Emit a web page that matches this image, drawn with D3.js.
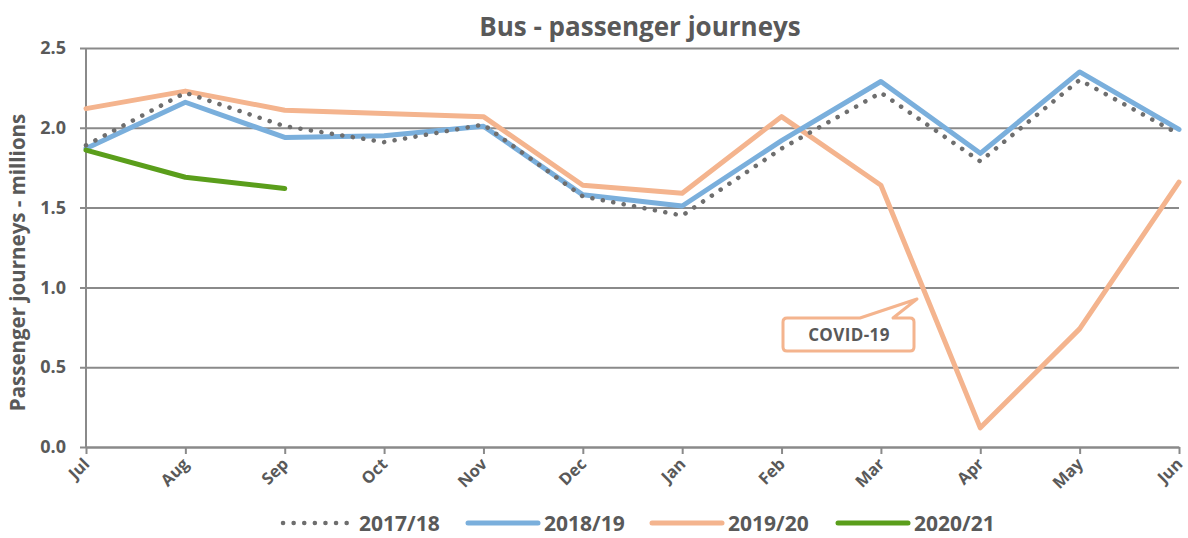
<!DOCTYPE html>
<html>
<head>
<meta charset="utf-8">
<script src="https://cdn.jsdelivr.net/npm/d3@7"></script>
<style>
  body { margin: 0; background: #fff; }
  text { font-family: "Open Sans", "Noto Sans", sans-serif; font-weight: 700; fill: #595959; }
</style>
</head>
<body>
<svg id="chart" width="1188" height="538"></svg>
<script>
// months of the financial year
const months = ["Jul", "Aug", "Sep", "Oct", "Nov", "Dec", "Jan", "Feb", "Mar", "Apr", "May", "Jun"];
const yTicks = [0, 0.5, 1.0, 1.5, 2.0, 2.5];

// passenger journeys, millions
const fy1718 = [1.89, 2.22, 2.01, 1.91, 2.02, 1.57, 1.45, 1.87, 2.22, 1.79, 2.30, 1.96];
const fy1819 = [1.87, 2.16, 1.94, 1.95, 2.01, 1.58, 1.51, 1.92, 2.29, 1.84, 2.35, 1.99];
const fy1920 = [2.12, 2.23, 2.11, 2.09, 2.07, 1.64, 1.59, 2.07, 1.64, 0.12, 0.74, 1.66];
const fy2021 = [1.86, 1.69, 1.62];

const seriesNames = ["2017/18", "2018/19", "2019/20", "2020/21"];

const series = [
    { name: seriesNames[0], values: fy1718, color: "#6e6e6e", dotted: true },
    { name: seriesNames[1], values: fy1819, color: "#7aafdc" },
    { name: seriesNames[2], values: fy1920, color: "#f4b48e" },
    { name: seriesNames[3], values: fy2021, color: "#5a9e1b" }
];

const svg = d3.select("#chart");
const margin = { left: 86, right: 9, top: 48, bottom: 91 };
const width = 1188 - margin.left - margin.right;
const height = 538 - margin.top - margin.bottom;

const x = d3.scalePoint().domain(months).range([0, width]);
const y = d3.scaleLinear().domain([0, 2.5]).range([height, 0]);

const g = svg.append("g")
    .attr("transform", "translate(" + margin.left + "," + margin.top + ")");

// title
svg.append("text")
    .attr("x", 640)
    .attr("y", 36)
    .attr("text-anchor", "middle")
    .style("font-size", "26px")
    .text("Bus - passenger journeys");

// y axis label
svg.append("text")
    .attr("transform", "translate(25," + (margin.top + height / 2 + 15) + ") rotate(-90)")
    .attr("text-anchor", "middle")
    .style("font-size", "20.5px")
    .text("Passenger journeys - millions");

// gridlines + y axis
const yAxis = g.append("g")
    .call(d3.axisLeft(y).tickValues(yTicks).tickFormat(d3.format(".1f")).tickSize(-width - 6))
    .attr("transform", "translate(-6,0)");
yAxis.select(".domain").remove();
yAxis.selectAll(".tick line")
    .attr("stroke", "#8a8a8a")
    .attr("stroke-width", 2);
yAxis.selectAll(".tick text")
    .attr("x", -14)
    .style("font-size", "18px")
    .style("font-family", "'Open Sans', sans-serif")
    .attr("fill", "#595959");

// left axis line
g.append("line")
    .attr("x1", 0).attr("x2", 0)
    .attr("y1", 0).attr("y2", height)
    .attr("stroke", "#8a8a8a")
    .attr("stroke-width", 2);

// x axis
const xAxis = g.append("g")
    .attr("transform", "translate(0," + height + ")")
    .call(d3.axisBottom(x).tickSize(7).tickSizeOuter(0));
xAxis.select(".domain").attr("stroke", "#8a8a8a").attr("stroke-width", 2);
xAxis.selectAll(".tick line").attr("stroke", "#8a8a8a").attr("stroke-width", 2);
xAxis.selectAll(".tick text")
    .attr("transform", "translate(0,14) rotate(-45)")
    .attr("text-anchor", "end")
    .attr("dy", "0.35em")
    .attr("y", 0)
    .attr("x", 0)
    .style("font-size", "16.5px")
    .style("font-family", "'Open Sans', sans-serif")
    .attr("fill", "#595959");

// lines
const line = d3.line()
    .x((d, i) => x(months[i]))
    .y((d) => y(d));

const drawOrder = [series[2], series[1], series[0], series[3]];
drawOrder.forEach((s) => {
    const p = g.append("path")
        .datum(s.values)
        .attr("d", line)
        .attr("fill", "none")
        .attr("stroke", s.color)
        .attr("stroke-linejoin", "round")
        .attr("stroke-linecap", "round");
    if (s.dotted) {
        p.attr("stroke-width", 4.5)
            .attr("stroke-dasharray", "0.1 10.5");
    } else {
        p.attr("stroke-width", 5);
    }
});

// COVID-19 callout
const callout = svg.append("g");
callout.append("path")
    .attr("d", "M787,318 L860,318 L917,299 L893,318 L910,318 Q914,318 914,322 L914,347 Q914,351 910,351 L787,351 Q783,351 783,347 L783,322 Q783,318 787,318 Z")
    .attr("fill", "#fff")
    .attr("stroke", "#f4b48e")
    .attr("stroke-width", 3)
    .attr("stroke-linejoin", "round");
callout.append("text")
    .attr("x", 849)
    .attr("y", 341)
    .attr("text-anchor", "middle")
    .style("font-size", "17px")
    .style("letter-spacing", "0.4px")
    .text("COVID-19");

// legend
const legendX = [283, 468, 652, 838];
const legend = svg.append("g").attr("transform", "translate(0,523)");
series.forEach((s, i) => {
    const l = legend.append("line")
        .attr("x1", legendX[i]).attr("x2", legendX[i] + 70)
        .attr("y1", 0).attr("y2", 0)
        .attr("stroke", s.color)
        .attr("stroke-linecap", "round");
    if (s.dotted) {
        l.attr("stroke-width", 4.5).attr("stroke-dasharray", "0.1 10.5");
    } else {
        l.attr("stroke-width", 5);
    }
    legend.append("text")
        .attr("x", legendX[i] + 76)
        .attr("y", 8)
        .style("font-size", "21px")
        .text(s.name);
});
</script>
</body>
</html>
